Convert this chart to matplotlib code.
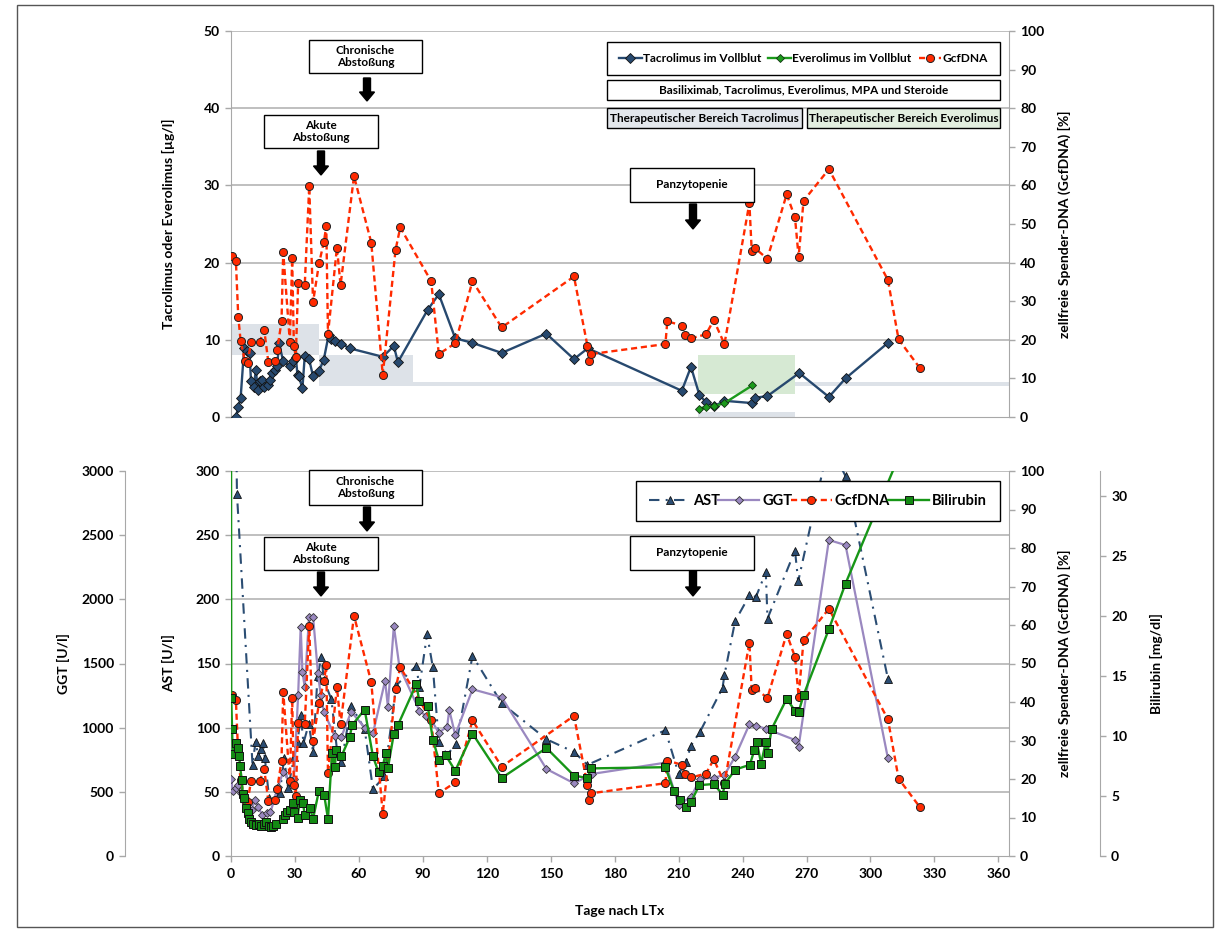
import numpy as np
import matplotlib
matplotlib.use("Agg")
import matplotlib.pyplot as plt
from matplotlib.patches import Rectangle, FancyArrow

plt.rcParams['font.family'] = ['Lato', 'DejaVu Sans']
plt.rcParams['font.weight'] = 'bold'
plt.rcParams['axes.labelweight'] = 'bold'
plt.rcParams['font.size'] = 9

# ---- Tacrolimus / Everolimus im Vollblut [µg/l]
tac_day = [2.3, 3.4, 4.5, 6.2, 7.3, 8.7, 9.4, 10.6, 11.7, 12.5, 13.6, 14.5, 15.6, 17.2, 18.2,
           19.3, 20.6, 21.7, 22.5, 24.5, 27.6, 29.1, 30.4, 31.2, 31.8, 33.5, 34.6, 36.6, 38.5,
           41.3, 43.5, 45.8, 46.7, 48.6, 51.8, 55.6, 71.2, 76.4, 78.3, 92.3, 97.5, 105.2, 113.3,
           127.0, 147.9, 160.9, 167.4, 211.5, 215.8, 219.7, 222.8, 226.7, 231.5, 244.6, 245.9,
           251.6, 266.6, 280.5, 288.3, 308.2]
tac_val = [0.0, 1.3, 2.4, 9.0, 8.5, 8.3, 4.6, 3.9, 6.1, 3.5, 4.6, 4.8, 3.9, 4.1, 4.8,
           5.7, 6.1, 6.6, 9.6, 7.2, 6.6, 7.2, 7.8, 5.4, 5.3, 3.7, 7.9, 7.5, 5.3,
           6.0, 7.4, 10.6, 10.1, 9.8, 9.5, 8.9, 7.8, 9.2, 7.1, 13.9, 15.9, 10.2, 9.6,
           8.3, 10.8, 7.5, 8.9, 3.4, 6.5, 2.9, 1.9, 1.4, 2.1, 1.8, 2.5,
           2.7, 5.7, 2.6, 5.0, 9.6]
evr_day = [219.7, 222.8, 226.7, 231.5, 244.6]
evr_val = [1.1, 1.3, 1.4, 1.8, 4.1]

# therapeutic ranges (day edges, lower / upper limit)
tac_rng_edges = [0, 41.5, 85.6, 219.0, 264.6, 365]
tac_rng_low = [8, 4, 4, 0, 4]
tac_rng_high = [12, 8, 4.5, 0.6, 4.5]
evr_rng_edges = [219.0, 264.6]
evr_rng_low = 3
evr_rng_high = 8

# ---- GcfDNA [%]
cf_day = [0.3, 2.3, 3.4, 4.5, 6.5, 7.8, 9.4, 13.4, 15.6, 17.5, 20.6, 21.7, 23.7, 24.5, 27.6,
          28.7, 29.5, 30.4, 31.5, 34.6, 36.7, 38.5, 41.3, 43.6, 44.7, 45.5, 49.7, 51.4, 57.7,
          65.8, 71.2, 77.2, 79.4, 93.9, 97.5, 105.2, 113.3, 127.0, 160.9, 167.2, 167.9, 169.0,
          203.8, 204.7, 211.5, 212.8, 215.9, 222.8, 226.5, 231.5, 243.2, 244.3, 245.9, 251.6,
          260.7, 264.6, 266.3, 268.6, 280.5, 308.2, 313.2, 323.3]
cf_val = [41.7, 40.4, 26.0, 19.8, 14.5, 14.1, 19.5, 19.5, 22.5, 14.3, 14.5, 17.4, 24.8, 42.7, 19.5,
          41.1, 18.5, 15.6, 34.6, 34.2, 59.8, 29.8, 39.8, 45.4, 49.5, 21.5, 43.9, 34.2, 62.4,
          45.2, 10.9, 43.3, 49.1, 35.2, 16.3, 19.1, 35.2, 23.2, 36.4, 18.5, 14.6, 16.3,
          18.9, 24.8, 23.7, 21.3, 20.4, 21.4, 25.1, 18.9, 55.4, 43.0, 43.7, 41.0,
          57.7, 51.7, 41.4, 56.0, 64.2, 35.5, 20.1, 12.6]

# ---- AST [U/l]
ast_day = [1.5, 2.8, 10.1, 11.5, 12.8, 13.9, 15.1, 15.9, 17.9, 22.9, 24.9, 26.8, 29.6, 31.2,
           32.7, 34.0, 36.5, 38.5, 40.6, 42.4, 43.6, 47.1, 49.9, 51.8, 56.4, 62.7, 66.6, 72.0,
           77.5, 86.9, 88.4, 92.0, 94.7, 97.5, 101.4, 105.6, 113.3, 127.0, 148.0, 161.0, 167.2,
           203.8, 210.0, 213.4, 215.8, 220.1, 230.6, 231.5, 236.5, 243.2, 246.3, 250.9, 251.7,
           264.6, 266.1, 280.5, 288.3, 308.2]
ast_val = [450, 282, 71, 89, 78, 83, 88, 76, 45, 49, 76, 53, 77, 88,
           110, 88, 103, 81, 140, 155, 137, 122, 80, 73, 117, 99, 52, 62,
           133, 148, 132, 173, 147, 89, 79, 87, 156, 119, 91, 81, 71,
           98, 64, 73, 86, 97, 131, 141, 183, 203, 202, 221, 185,
           238, 214, 322, 296, 138]

# ---- GGT [U/l]
ggt_day = [0.2, 0.8, 2.3, 3.1, 4.5, 9.7, 11.2, 12.8, 14.6, 16.7, 18.5, 22.1, 24.5, 27.6, 29.5,
           31.5, 32.7, 33.5, 34.6, 36.6, 38.5, 40.8, 42.1, 43.6, 48.6, 51.8, 56.4, 62.7, 66.6,
           72.3, 73.6, 76.4, 79.0, 88.4, 91.5, 93.9, 97.5, 101.4, 102.4, 105.2, 113.3, 127.0,
           148.0, 161.0, 169.2, 203.8, 210.0, 215.8, 220.1, 226.4, 231.5, 236.5, 243.2, 246.3,
           250.9, 264.6, 266.3, 280.5, 288.3, 308.2]
ggt_val = [598, 506, 527, 553, 488, 358, 436, 384, 319, 332, 340, 540, 657, 579, 600,
           1254, 1787, 1436, 1315, 1865, 1865, 1424, 1254, 1124, 935, 930, 1124, 1000, 956,
           1366, 1163, 1792, 1475, 1132, 1091, 1060, 961, 1008, 1138, 943, 1299, 1237,
           678, 566, 639, 727, 397, 462, 600, 610, 631, 774, 1026, 1015,
           992, 904, 852, 2462, 2423, 761]

# ---- Bilirubin [mg/dl]
bil_day = [0.0, 0.1, 0.5, 0.8, 2.3, 3.1, 3.9, 4.2, 5.1, 5.5, 6.2, 7.0, 7.8, 8.6, 9.4,
           10.5, 11.8, 13.0, 14.2, 15.3, 16.4, 17.6, 18.8, 19.8, 21.0, 24.2, 25.4, 26.5, 27.7,
           28.9, 29.6, 31.2, 32.3, 33.8, 34.6, 37.0, 38.5, 41.2, 43.7, 45.5, 47.4, 48.7, 49.4,
           51.8, 55.7, 56.8, 62.7, 66.6, 69.2, 71.3, 72.5, 73.6, 76.4, 78.3, 86.9, 88.4, 92.3,
           94.7, 97.5, 100.7, 105.2, 113.3, 127.0, 148.0, 160.9, 167.2, 169.0, 203.8, 207.8,
           210.5, 213.5, 215.8, 219.7, 226.5, 230.7, 231.6, 236.6, 243.4, 245.5, 246.7, 248.7,
           250.9, 251.7, 253.7, 260.7, 264.6, 266.3, 268.6, 280.5, 288.3, 323.3]
bil_val = [40, 13.2, 10.6, 8.5, 9.4, 9.0, 8.3, 7.5, 6.3, 5.2, 4.8, 4.0, 3.6, 3.1, 2.8,
           2.7, 2.6, 2.7, 2.5, 2.7, 2.8, 2.5, 2.4, 2.5, 2.7, 3.1, 3.4, 3.7, 3.8,
           4.4, 3.7, 3.2, 4.7, 4.4, 3.4, 4.0, 3.1, 5.4, 5.1, 3.1, 8.6, 7.4, 8.8,
           8.3, 9.9, 10.9, 12.2, 8.3, 7.0, 7.5, 8.6, 7.3, 10.2, 10.9, 14.3, 12.9, 12.5,
           9.7, 8.0, 8.4, 7.1, 10.2, 6.5, 9.0, 6.7, 6.5, 7.3, 7.4, 5.4,
           4.7, 4.05, 4.5, 5.9, 6.0, 5.1, 6.0, 7.2, 7.6, 8.8, 9.5, 7.7,
           9.5, 8.6, 10.6, 13.1, 12.1, 12.0, 13.4, 18.9, 22.7, 37.5]

x_ticks = np.arange(0, 361, 30)

C_TAC = '#27496f'
C_EVR = '#1c9a1c'
C_CF = '#ff2a00'
C_AST = '#2b4d73'
C_GGT = '#9a88c0'
C_BIL = '#179617'
C_SPINE = '#a8a8a8'
C_GRID = '#b4b4b4'

W, H = 1229, 931
fig = plt.figure(figsize=(W / 100, H / 100), dpi=100)


def fx(x):
    return x / W


def fy(y):
    return 1 - y / H


def style_axis(ax, side):
    for s in ax.spines.values():
        s.set_visible(False)
    ax.spines[side].set_visible(True)
    ax.spines[side].set_color(C_SPINE)
    ax.tick_params(axis='y', colors=C_SPINE, labelcolor='black', length=4, width=1,
                   labelsize=10, pad=4)


def frame_box(x0, y0, x1, y1, fc='white'):
    fig.add_artist(Rectangle((fx(x0), fy(y1)), (x1 - x0) / W, (y1 - y0) / H,
                             transform=fig.transFigure, fc=fc, ec='black', lw=1, zorder=5))


def text_box(x0, y0, x1, y1, txt, fc='white', size=8.5):
    frame_box(x0, y0, x1, y1, fc)
    fig.text(fx((x0 + x1) / 2), fy((y0 + y1) / 2), txt, ha='center', va='center',
             fontsize=size, fontweight='bold', linespacing=1.05, zorder=6)


def down_arrow(x, y0, y1):
    fig.add_artist(FancyArrow(fx(x), fy(y0), 0, fy(y1) - fy(y0), width=7 / W,
                              head_width=15 / W, head_length=9 / H,
                              length_includes_head=True, transform=fig.transFigure,
                              fc='black', ec='black', zorder=5))


ax_rect_w = (1009 - 231) / W

# ================= top panel =================
ax_t = fig.add_axes([fx(231), fy(417), ax_rect_w, (417 - 31) / H])
ax_t.set_xlim(0, 365)
ax_t.set_ylim(0, 50)
ax_t.set_yticks(np.arange(0, 51, 10))
style_axis(ax_t, 'left')
ax_t.spines['bottom'].set_visible(True)
ax_t.spines['bottom'].set_color(C_SPINE)
ax_t.tick_params(axis='x', length=0, labelbottom=False)
for v in range(10, 51, 10):
    ax_t.axhline(v, color=C_GRID, lw=1.2, zorder=0)

for i in range(len(tac_rng_low)):
    ax_t.fill_between(tac_rng_edges[i:i + 2], tac_rng_low[i], tac_rng_high[i],
                      color='#dde2e8', lw=0, zorder=1)
ax_t.fill_between(evr_rng_edges, evr_rng_low, evr_rng_high, color='#d6e9d3', lw=0, zorder=1)

l_tac, = ax_t.plot(tac_day, tac_val, color=C_TAC, lw=1.7, marker='D', ms=4.6,
                   mfc=C_TAC, mec='#111111', mew=0.6, zorder=3)
l_evr, = ax_t.plot(evr_day, evr_val, color=C_EVR, lw=1.7, marker='D', ms=4.0,
                   mfc=C_EVR, mec='#113311', mew=0.6, zorder=3)
ax_t.set_ylabel('Tacrolimus oder Everolimus [µg/l]', fontsize=10)
ax_t.yaxis.set_label_coords(-0.072, 0.5)

ax_tr = ax_t.twinx()
ax_tr.set_ylim(0, 100)
ax_tr.set_yticks(np.arange(0, 101, 10))
style_axis(ax_tr, 'right')
l_cf, = ax_tr.plot(cf_day, cf_val, color=C_CF, lw=1.7, ls=(0, (2.6, 1.6)), marker='o',
                   ms=5.8, mfc=C_CF, mec='#222222', mew=0.7, zorder=3)
ax_tr.set_ylabel('zellfreie Spender-DNA (GcfDNA) [%]', fontsize=10)
ax_tr.yaxis.set_label_coords(1.063, 0.5)

# legend of the upper panel inside its own frame
frame_box(607, 42, 1000, 75)
leg = fig.legend([l_tac, l_evr, l_cf],
                 ['Tacrolimus im Vollblut', 'Everolimus im Vollblut', 'GcfDNA'],
                 loc='center', bbox_to_anchor=(fx(803.5), fy(58.5)),
                 bbox_transform=fig.transFigure, ncol=3, frameon=False,
                 borderaxespad=0, borderpad=0, handlelength=1.9, handletextpad=0.1,
                 columnspacing=0.6, fontsize=8.6)
leg.set_zorder(6)

text_box(607, 80, 1000, 100, 'Basiliximab, Tacrolimus, Everolimus, MPA und Steroide')
text_box(607, 108, 802, 128, 'Therapeutischer Bereich Tacrolimus', fc='#e3e7ec')
text_box(807, 108, 1000, 128, 'Therapeutischer Bereich Everolimus', fc='#e2eedf')

text_box(309, 40, 422, 73, 'Chronische\nAbstoßung')
down_arrow(367, 78, 101)
text_box(264, 115, 378, 148, 'Akute\nAbstoßung')
down_arrow(321, 151, 175)
text_box(630, 168, 754, 202, 'Panzytopenie')
down_arrow(693, 204, 229)

# ================= bottom panel =================
ax_b = fig.add_axes([fx(231), fy(856), ax_rect_w, (856 - 471) / H])
ax_b.set_xlim(0, 365)
ax_b.set_ylim(0, 300)
ax_b.set_yticks(np.arange(0, 301, 50))
style_axis(ax_b, 'left')
ax_b.spines['bottom'].set_visible(True)
ax_b.spines['bottom'].set_color(C_SPINE)
ax_b.set_xticks(x_ticks)
ax_b.tick_params(axis='x', colors=C_SPINE, labelcolor='black', length=4, width=1,
                 labelsize=10, pad=5)
for v in range(50, 301, 50):
    ax_b.axhline(v, color=C_GRID, lw=1.2, zorder=0)
l_ast, = ax_b.plot(ast_day, ast_val, color=C_AST, lw=1.5, ls=(0, (5, 3, 1, 3)), marker='^',
                   ms=5.4, mfc=C_AST, mec='#111111', mew=0.6, zorder=3)
ax_b.set_ylabel('AST [U/l]', fontsize=10)
ax_b.yaxis.set_label_coords(-0.072, 0.5)
ax_b.set_xlabel('Tage nach LTx', fontsize=10)
ax_b.xaxis.set_label_coords(0.5, -0.127)

ax_g = ax_b.twinx()
ax_g.set_ylim(0, 3000)
ax_g.set_yticks(np.arange(0, 3001, 500))
style_axis(ax_g, 'left')
ax_g.spines['left'].set_position(('axes', (125 - 231) / 778))
ax_g.yaxis.set_ticks_position('left')
ax_g.yaxis.set_label_position('left')
l_ggt, = ax_g.plot(ggt_day, ggt_val, color=C_GGT, lw=1.6, marker='D', ms=4.5,
                   mfc=C_GGT, mec='#333333', mew=0.6, zorder=3)
ax_g.set_ylabel('GGT [U/l]', fontsize=10)
ax_g.yaxis.set_label_coords(-0.207, 0.5)

ax_c = ax_b.twinx()
ax_c.set_ylim(0, 100)
ax_c.set_yticks(np.arange(0, 101, 10))
style_axis(ax_c, 'right')
l_cf2, = ax_c.plot(cf_day, cf_val, color=C_CF, lw=1.7, ls=(0, (2.6, 1.6)), marker='o',
                   ms=5.8, mfc=C_CF, mec='#222222', mew=0.7, zorder=3)
ax_c.set_ylabel('zellfreie Spender-DNA (GcfDNA) [%]', fontsize=10)
ax_c.yaxis.set_label_coords(1.063, 0.5)

ax_bl = ax_b.twinx()
ax_bl.set_ylim(0, 32.08)
ax_bl.set_yticks(np.arange(0, 31, 5))
style_axis(ax_bl, 'right')
ax_bl.spines['right'].set_position(('axes', (1100 - 231) / 778))
l_bil, = ax_bl.plot(bil_day, bil_val, color=C_BIL, lw=1.7, marker='s', ms=5.8,
                    mfc='#138a13', mec='#111111', mew=0.7, zorder=3)
ax_bl.set_ylabel('Bilirubin [mg/dl]', fontsize=10)
ax_bl.yaxis.set_label_coords(1.181, 0.5)

ax_bl.legend([l_ast, l_ggt, l_cf2, l_bil], ['AST', 'GGT', 'GcfDNA', 'Bilirubin'],
             loc='center', bbox_to_anchor=(fx(636), fy(521), (1000 - 636) / W, 40 / H),
             bbox_transform=fig.transFigure, mode='expand', ncol=4, fancybox=False,
             edgecolor='black', framealpha=1, borderaxespad=0, handlelength=2.8,
             handletextpad=0.2, columnspacing=1.0, fontsize=10.5, borderpad=0.9)
ax_bl.get_legend().get_frame().set_linewidth(1)

text_box(309, 470, 422, 505, 'Chronische\nAbstoßung')
down_arrow(367, 507, 531)
text_box(264, 537, 378, 570, 'Akute\nAbstoßung')
down_arrow(321, 572, 596)
text_box(630, 536, 754, 570, 'Panzytopenie')
down_arrow(693, 571, 596)

# frame around the whole figure
fig.add_artist(Rectangle((fx(17), fy(927)), (1213 - 17) / W, (927 - 5) / H,
                         transform=fig.transFigure, fill=False, ec='#555555', lw=1, zorder=7))

fig.savefig('out.png', dpi=100)
